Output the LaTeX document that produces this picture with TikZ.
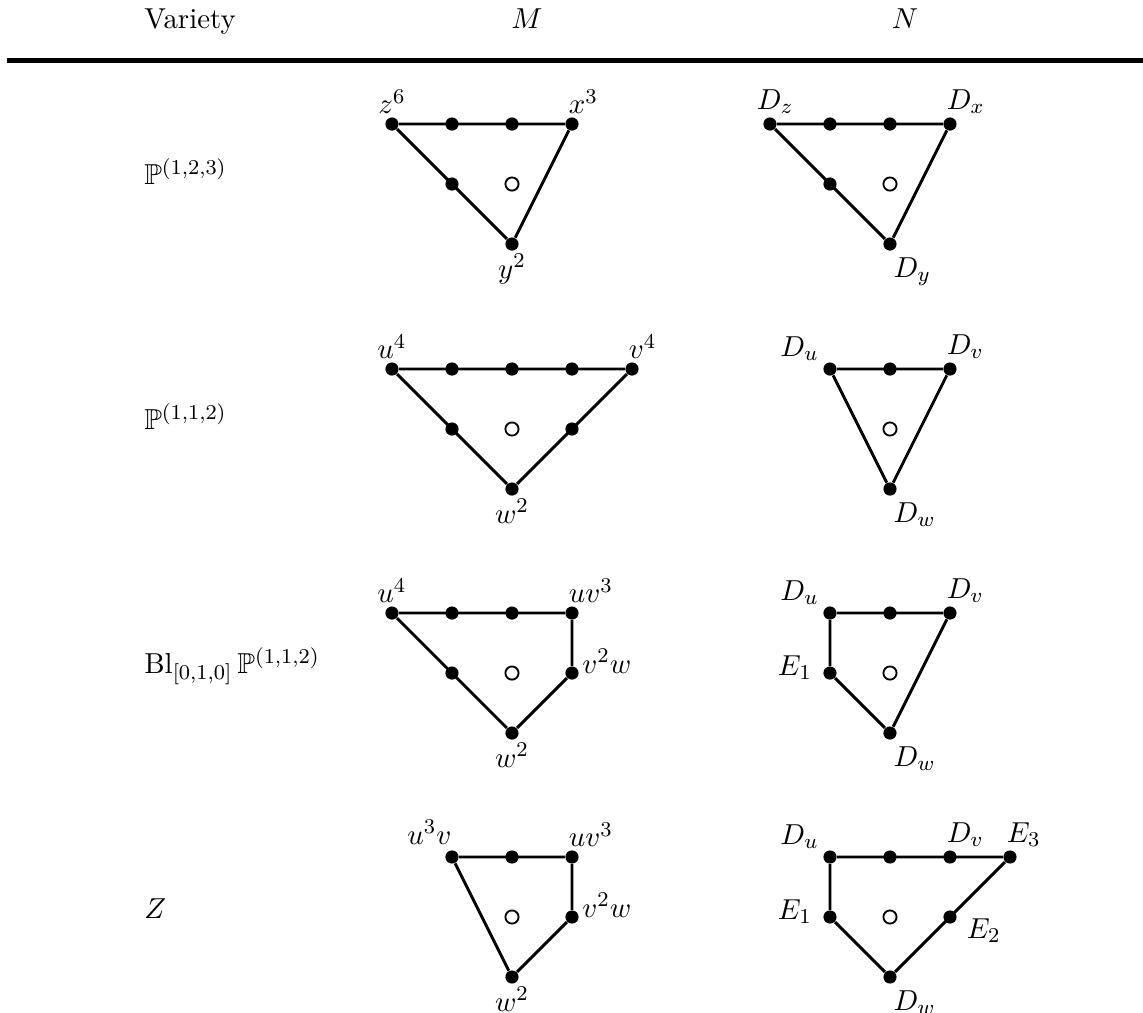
\documentclass[tikz,border=0pt]{standalone}
\usepackage{amsmath,amssymb}
\tikzset{
  dot/.style={circle,fill,inner sep=0pt,minimum size=5pt},
  hole/.style={circle,draw,line width=0.7pt,inner sep=0pt,minimum size=5pt},
  edge/.style={line width=1.1pt},
  every label/.style={inner sep=1pt},
  lab n/.style={label={above:$#1$}},
  lab ne/.style={label={[anchor=south west,xshift=-2.4pt]north:$#1$}},
  lab nw/.style={label={[xshift=-1.2pt]above left:$#1$}},
  lab s/.style={label={below:$#1$}},
  lab se/.style={label={[xshift=-1.7pt,yshift=-2pt]below right:$#1$}},
  lab e/.style={label={[anchor=base west]east:$#1$}},
  lab w/.style={label={[anchor=base east,xshift=-3pt,yshift=-0.8pt]west:$#1$}},
}
\begin{document}
\begin{tikzpicture}[x=0.8cm,y=0.8cm,font=\fontsize{10.95}{13.6}\selectfont]
  \useasboundingbox (0,0) rectangle (19.05,-16.867);
  % header
  \node[anchor=base west] (hvar) at (2.25,-0.483) {Variety};
  \node[anchor=base] (hM) at (8.783,-0.483) {$M$};
  \node[anchor=base] (hN) at (15.083,-0.483) {$N$};
  \draw[line width=1.7pt] (0.12,-1.008) -- (19.05,-1.008);
  % first column
  \node[anchor=base west] (v1) at (2.25,-3.08) {$\mathbb{P}^{(1,2,3)}$};
  \node[anchor=base west] (v2) at (2.25,-7.16) {$\mathbb{P}^{(1,1,2)}$};
  \node[anchor=base west] (v3) at (2.25,-11.23) {$\operatorname{Bl}_{[0,1,0]}\mathbb{P}^{(1,1,2)}$};
  \node[anchor=base west] (v4) at (2.25,-15.3) {$Z$};
  % P(1,2,3)
  \begin{scope}[shift={(8.533,-3.067)}]
    \node[dot,lab n=z^6] (m1z) at (-2,1) {};
    \node[dot] (m1p1) at (-1,1) {};
    \node[dot] (m1p2) at (0,1) {};
    \node[dot,lab ne=x^3] (m1x) at (1,1) {};
    \node[dot] (m1p3) at (-1,0) {};
    \node[hole] (m1o) at (0,0) {};
    \node[dot,lab s=y^2] (m1y) at (0,-1) {};
    \draw[edge] (m1z) -- (m1x) -- (m1y) -- (m1z);
  \end{scope}
  \begin{scope}[shift={(14.833,-3.067)}]
    \node[dot,label={[xshift=2pt]above:$D_z$}] (n1z) at (-2,1) {};
    \node[dot] (n1p1) at (-1,1) {};
    \node[dot] (n1p2) at (0,1) {};
    \node[dot,lab ne=D_x] (n1x) at (1,1) {};
    \node[dot] (n1p3) at (-1,0) {};
    \node[hole] (n1o) at (0,0) {};
    \node[dot,lab se=D_y] (n1y) at (0,-1) {};
    \draw[edge] (n1z) -- (n1x) -- (n1y) -- (n1z);
  \end{scope}
  % P(1,1,2)
  \begin{scope}[shift={(8.533,-7.15)}]
    \node[dot,lab n=u^4] (m2u) at (-2,1) {};
    \foreach \x [count=\i] in {-1,0,1}
      \node[dot] (m2p\i) at (\x,1) {};
    \node[dot,lab ne=v^4] (m2v) at (2,1) {};
    \node[dot] (m2p4) at (-1,0) {};
    \node[hole] (m2o) at (0,0) {};
    \node[dot] (m2p5) at (1,0) {};
    \node[dot,lab s=w^2] (m2w) at (0,-1) {};
    \draw[edge] (m2u) -- (m2v) -- (m2w) -- (m2u);
  \end{scope}
  \begin{scope}[shift={(14.833,-7.15)}]
    \node[dot,lab nw=D_u] (n2u) at (-1,1) {};
    \node[dot] (n2p1) at (0,1) {};
    \node[dot,lab ne=D_v] (n2v) at (1,1) {};
    \node[hole] (n2o) at (0,0) {};
    \node[dot,lab se=D_w] (n2w) at (0,-1) {};
    \draw[edge] (n2u) -- (n2v) -- (n2w) -- (n2u);
  \end{scope}
  % Bl P(1,1,2)
  \begin{scope}[shift={(8.533,-11.217)}]
    \node[dot,lab n=u^4] (m3u) at (-2,1) {};
    \node[dot] (m3p1) at (-1,1) {};
    \node[dot] (m3p2) at (0,1) {};
    \node[dot,lab ne=uv^3] (m3uv) at (1,1) {};
    \node[dot] (m3p3) at (-1,0) {};
    \node[hole] (m3o) at (0,0) {};
    \node[dot,lab e=v^2w] (m3vw) at (1,0) {};
    \node[dot,lab s=w^2] (m3w) at (0,-1) {};
    \draw[edge] (m3u) -- (m3uv) -- (m3vw) -- (m3w) -- (m3u);
  \end{scope}
  \begin{scope}[shift={(14.833,-11.217)}]
    \node[dot,lab nw=D_u] (n3u) at (-1,1) {};
    \node[dot] (n3p1) at (0,1) {};
    \node[dot,lab ne=D_v] (n3v) at (1,1) {};
    \node[dot,lab w=E_1] (n3e) at (-1,0) {};
    \node[hole] (n3o) at (0,0) {};
    \node[dot,lab se=D_w] (n3w) at (0,-1) {};
    \draw[edge] (n3u) -- (n3v) -- (n3w) -- (n3e) -- (n3u);
  \end{scope}
  % Z
  \begin{scope}[shift={(8.533,-15.283)}]
    \node[dot,label={[anchor=south east,xshift=1pt,yshift=1pt]north:$u^3v$}] (m4uv) at (-1,1) {};
    \node[dot] (m4p1) at (0,1) {};
    \node[dot,lab ne=uv^3] (m4uvv) at (1,1) {};
    \node[hole] (m4o) at (0,0) {};
    \node[dot,lab e=v^2w] (m4vw) at (1,0) {};
    \node[dot,lab s=w^2] (m4w) at (0,-1) {};
    \draw[edge] (m4uv) -- (m4uvv) -- (m4vw) -- (m4w) -- (m4uv);
  \end{scope}
  \begin{scope}[shift={(14.833,-15.283)}]
    \node[dot,lab nw=D_u] (n4u) at (-1,1) {};
    \node[dot] (n4p1) at (0,1) {};
    \node[dot,lab ne=D_v] (n4v) at (1,1) {};
    \node[dot,lab ne=E_3] (n4e3) at (2,1) {};
    \node[dot,lab w=E_1] (n4e1) at (-1,0) {};
    \node[hole] (n4o) at (0,0) {};
    \node[dot,label={[anchor=north west,xshift=2.5pt,yshift=0.6pt]east:$E_2$}] (n4e2) at (1,0) {};
    \node[dot,lab se=D_w] (n4w) at (0,-1) {};
    \draw[edge] (n4u) -- (n4e3) -- (n4w) -- (n4e1) -- (n4u);
  \end{scope}
\end{tikzpicture}
\end{document}
